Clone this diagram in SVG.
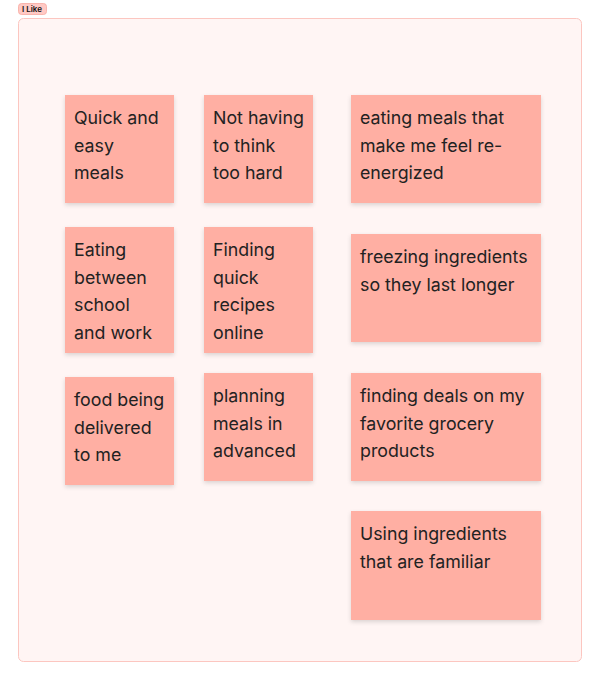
<svg xmlns="http://www.w3.org/2000/svg" width="600" height="680" viewBox="0 0 600 680">
  <defs>
    <filter id="shadow" x="-10%" y="-10%" width="120%" height="130%">
      <feDropShadow dx="0" dy="2" stdDeviation="2" flood-color="#000" flood-opacity="0.14"/>
    </filter>
  </defs>
  <style>
    .note { fill: #ffafa3; filter: url(#shadow); }
    .txt { font-family: Inter, "Liberation Sans", sans-serif; font-size: 17.8px; fill: #222222; }
    .frame { fill: #fff5f4; stroke: #fcc6c0; stroke-width: 1; }
    .tag { fill: #ffc9c4; stroke: #f7a8a0; stroke-width: 0.8; }
    .tagtxt { font-family: Inter, "Liberation Sans", sans-serif; font-size: 8px; font-weight: 600; fill: #111; }
  </style>

  <!-- frame and its label -->
  <g id="frame">
    <rect class="frame" x="18.5" y="18.5" width="563" height="643" rx="5"/>
    <rect class="tag" x="18.5" y="3.5" width="28" height="11" rx="3"/>
    <text class="tagtxt" x="22" y="12">I Like</text>
  </g>

  <g id="n1">
    <rect class="note" x="65" y="95" width="109" height="108"/>
    <text class="txt" x="74" y="124">Quick and<tspan x="74" dy="27.5">easy</tspan><tspan x="74" dy="27.5">meals</tspan></text>
  </g>
  <g id="n2">
    <rect class="note" x="204" y="95" width="109" height="108"/>
    <text class="txt" x="213" y="124">Not having<tspan x="213" dy="27.5">to think</tspan><tspan x="213" dy="27.5">too hard</tspan></text>
  </g>
  <g id="n3">
    <rect class="note" x="351" y="95" width="190" height="108"/>
    <text class="txt" x="360" y="124">eating meals that<tspan x="360" dy="27.5">make me feel re-</tspan><tspan x="360" dy="27.5">energized</tspan></text>
  </g>
  <g id="n4">
    <rect class="note" x="65" y="227" width="109" height="126"/>
    <text class="txt" x="74" y="256">Eating<tspan x="74" dy="27.5">between</tspan><tspan x="74" dy="27.5">school</tspan><tspan x="74" dy="27.5">and work</tspan></text>
  </g>
  <g id="n5">
    <rect class="note" x="204" y="227" width="109" height="126"/>
    <text class="txt" x="213" y="256">Finding<tspan x="213" dy="27.5">quick</tspan><tspan x="213" dy="27.5">recipes</tspan><tspan x="213" dy="27.5">online</tspan></text>
  </g>
  <g id="n6">
    <rect class="note" x="351" y="234" width="190" height="108"/>
    <text class="txt" x="360" y="263">freezing ingredients<tspan x="360" dy="27.5">so they last longer</tspan></text>
  </g>
  <g id="n7">
    <rect class="note" x="65" y="377" width="109" height="108"/>
    <text class="txt" x="74" y="406">food being<tspan x="74" dy="27.5">delivered</tspan><tspan x="74" dy="27.5">to me</tspan></text>
  </g>
  <g id="n8">
    <rect class="note" x="204" y="373" width="109" height="108"/>
    <text class="txt" x="213" y="402">planning<tspan x="213" dy="27.5">meals in</tspan><tspan x="213" dy="27.5">advanced</tspan></text>
  </g>
  <g id="n9">
    <rect class="note" x="351" y="373" width="190" height="108"/>
    <text class="txt" x="360" y="402">finding deals on my<tspan x="360" dy="27.5">favorite grocery</tspan><tspan x="360" dy="27.5">products</tspan></text>
  </g>
  <g id="n10">
    <rect class="note" x="351" y="511" width="190" height="109"/>
    <text class="txt" x="360" y="540">Using ingredients<tspan x="360" dy="27.5">that are familiar</tspan></text>
  </g>

  <!-- no connectors between the notes -->
  <g id="connectors"/>
</svg>
